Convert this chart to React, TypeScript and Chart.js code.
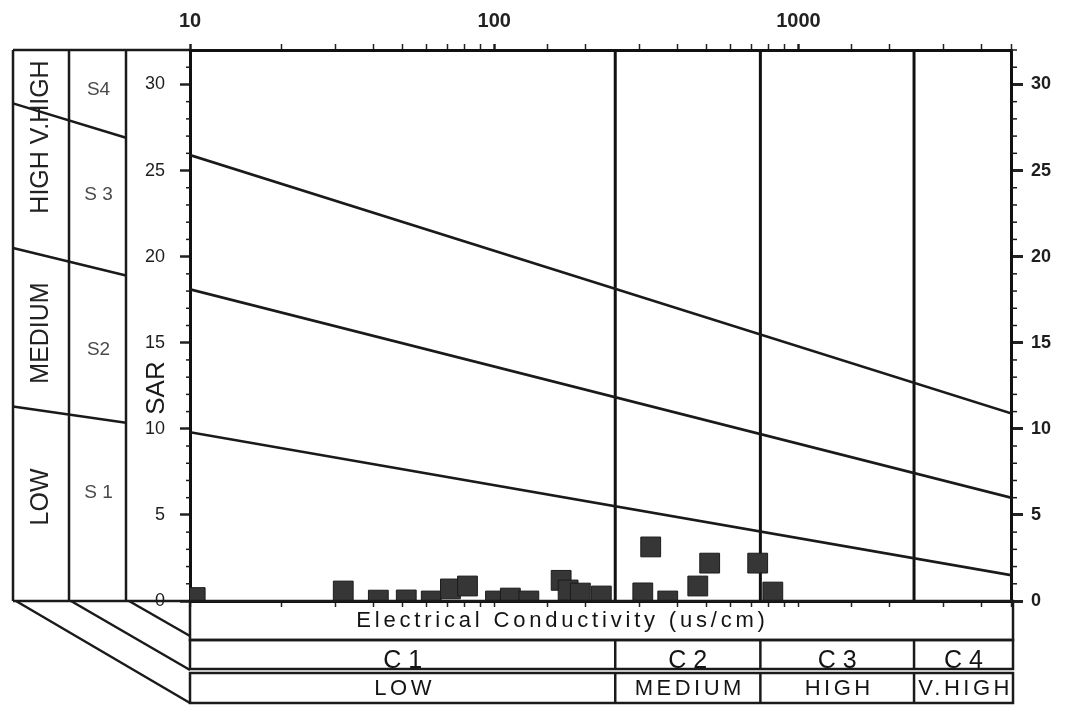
import React, { useEffect, useRef } from 'react';
import { Chart, registerables } from 'chart.js';

Chart.register(...registerables);

// ---------- data ----------
const ecMin = 10;
const ecMax = 5000;
const sarMin = 0;
const sarMax = 32;

const sampleEC = [10.4, 31.9, 41.6, 51.4, 62.1, 71.8, 81.7, 101, 113, 130, 166, 175, 192, 225, 308, 327, 372, 467, 511, 735, 824];
const sampleSAR = [0.2, 0.58, 0.05, 0.06, 0.0, 0.7, 0.87, 0.0, 0.17, 0.0, 1.2, 0.64, 0.46, 0.29, 0.47, 3.14, 0.0, 0.87, 2.2, 2.2, 0.52];

const hazardLineEC = [10, 5000];
const s1s2LineSAR = [9.8, 1.5];
const s2s3LineSAR = [18.1, 6.0];
const s3s4LineSAR = [25.9, 10.9];

const salinityBoundsEC = [250, 750, 2400];
const salinityClasses = ['C 1', 'C 2', 'C 3', 'C 4'];
const salinityNames = ['LOW', 'MEDIUM', 'HIGH', 'V.HIGH'];
const sodiumClasses = ['S 1', 'S2', 'S 3', 'S4'];
const sodiumNames = ['LOW', 'MEDIUM', 'HIGH V.HIGH'];
const sodiumPanelLeftSAR = [11.3, 20.5, 28.9];
const sodiumPanelRightSAR = [10.35, 18.9, 26.9];
const sarTickStep = 5;
const xTitle = 'Electrical Conductivity (us/cm)';
const yTitle = 'SAR';

// ---------- layout (pixels) ----------
const FONT = '"Liberation Sans", Arial, sans-serif';
const panelColX = [13, 69, 126];
const sodiumClassLabelY = [493, 350, 195, 90];
const sodiumNameLabelY = [497, 333, 137];

const isPow10 = (v: number) => Math.abs(Math.log10(v) - Math.round(Math.log10(v))) < 1e-9;

function seg(ctx: CanvasRenderingContext2D, x1: number, y1: number, x2: number, y2: number) {
  ctx.beginPath();
  ctx.moveTo(x1, y1);
  ctx.lineTo(x2, y2);
  ctx.stroke();
}

const decorPlugin = {
  id: 'decor',
  afterDraw(chart: any) {
    const ctx: CanvasRenderingContext2D = chart.ctx;
    const { left, right, top, bottom } = chart.chartArea;
    const xs = chart.scales.x;
    const ys = chart.scales.y;
    ctx.save();
    ctx.strokeStyle = '#1a1a1a';
    ctx.fillStyle = '#222';

    // minor SAR ticks
    ctx.lineWidth = 1.5;
    for (let v = sarMin; v <= sarMax; v++) {
      if (v % sarTickStep === 0) continue;
      const py = ys.getPixelForValue(v);
      seg(ctx, left - 4, py, left, py);
      seg(ctx, right, py, right + 6, py);
    }

    // left sodium panel
    ctx.lineWidth = 2.5;
    panelColX.forEach((x) => seg(ctx, x, top, x, bottom));
    seg(ctx, panelColX[0], top, left, top);
    seg(ctx, panelColX[0], bottom, left, bottom);
    sodiumPanelLeftSAR.forEach((a, i) => {
      seg(ctx, panelColX[0], ys.getPixelForValue(a), panelColX[2], ys.getPixelForValue(sodiumPanelRightSAR[i]));
    });

    // bottom salinity table
    const tRight = right + 2;
    const r1 = bottom + 39;
    const r2a = r1, r2b = bottom + 68;
    const r3a = bottom + 72, r3b = bottom + 102;
    ctx.strokeRect(left, bottom, tRight - left, r1 - bottom);
    ctx.strokeRect(left, r2a, tRight - left, r2b - r2a);
    ctx.strokeRect(left, r3a, tRight - left, r3b - r3a);
    const divX = salinityBoundsEC.map((v) => xs.getPixelForValue(v));
    divX.forEach((x) => {
      seg(ctx, x, r2a, x, r2b);
      seg(ctx, x, r3a, x, r3b);
    });
    // connecting diagonals
    seg(ctx, panelColX[0] + 3, bottom, left, r3b);
    seg(ctx, panelColX[1] + 2, bottom, left, r2b + 1);
    seg(ctx, panelColX[2] + 3, bottom, left, r1 - 4);

    // texts in bottom table
    const cx = [left, ...divX, tRight];
    ctx.textAlign = 'center';
    ctx.textBaseline = 'middle';
    (ctx as any).letterSpacing = '3.8px';
    ctx.font = `22px ${FONT}`;
    ctx.fillStyle = '#141414';
    ctx.fillText(xTitle, (left + right) / 2 - 38, bottom + 20);
    (ctx as any).letterSpacing = '0px';
    ctx.font = `25px ${FONT}`;
    ctx.textBaseline = 'alphabetic';
    salinityClasses.forEach((t, i) => ctx.fillText(t, (cx[i] + cx[i + 1]) / 2, r2b - 1));
    (ctx as any).letterSpacing = '3.5px';
    ctx.font = `22px ${FONT}`;
    ctx.textBaseline = 'middle';
    salinityNames.forEach((t, i) => ctx.fillText(t, (cx[i] + cx[i + 1]) / 2 + 2, (r3a + r3b) / 2 + 1));
    (ctx as any).letterSpacing = '0px';

    // left panel texts
    ctx.fillStyle = '#222';
    ctx.font = `25px ${FONT}`;
    sodiumNames.forEach((t, i) => {
      ctx.save();
      ctx.translate((panelColX[0] + panelColX[1]) / 2, sodiumNameLabelY[i]);
      ctx.rotate(-Math.PI / 2);
      ctx.fillText(t, 0, 0);
      ctx.restore();
    });
    ctx.fillStyle = '#4a4a4a';
    ctx.font = `19px ${FONT}`;
    sodiumClasses.forEach((t, i) => {
      ctx.fillText(t, (panelColX[1] + panelColX[2]) / 2 + 1, sodiumClassLabelY[i]);
    });

    // SAR axis title
    ctx.fillStyle = '#1a1a1a';
    ctx.font = `26px ${FONT}`;
    ctx.save();
    ctx.translate(157, 388);
    ctx.rotate(-Math.PI / 2);
    ctx.fillText(yTitle, 0, 0);
    ctx.restore();

    ctx.restore();
  },
};

export default function App() {
  const ref = useRef<HTMLCanvasElement>(null);

  useEffect(() => {
    const canvas = ref.current as HTMLCanvasElement;
    const lineDs = (ys: number[]) => ({
      type: 'line' as const,
      data: hazardLineEC.map((x, i) => ({ x, y: ys[i] })),
      borderColor: '#1a1a1a',
      borderWidth: 2.6,
      pointRadius: 0,
      fill: false,
      clip: 0,
    });
    const vDs = (ec: number) => ({
      type: 'line' as const,
      data: [{ x: ec, y: sarMin }, { x: ec, y: sarMax }],
      borderColor: '#111',
      borderWidth: 3,
      pointRadius: 0,
      fill: false,
      clip: 0,
    });

    const yTicks = {
      stepSize: sarTickStep,
      includeBounds: false,
      color: '#1e1e1e',
    };

    const chart = new Chart(canvas, {
      type: 'scatter',
      data: {
        datasets: [
          {
            type: 'scatter',
            data: sampleEC.map((x, i) => ({ x, y: sampleSAR[i] })),
            pointStyle: 'rect',
            pointRadius: 14,
            backgroundColor: '#363636',
            borderColor: '#1c1c1c',
            borderWidth: 1,
            clip: 0,
          } as any,
          lineDs(s1s2LineSAR),
          lineDs(s2s3LineSAR),
          lineDs(s3s4LineSAR),
          ...salinityBoundsEC.map(vDs),
        ],
      },
      options: {
        animation: false,
        responsive: false,
        events: [],
        layout: { padding: 0 },
        plugins: { legend: { display: false }, tooltip: { enabled: false } },
        scales: {
          x: {
            type: 'logarithmic',
            position: 'bottom',
            min: ecMin,
            max: ecMax,
            grid: { drawOnChartArea: false, drawTicks: true, tickLength: 6, tickColor: '#222', tickWidth: 1.5 },
            border: { display: true, color: '#111', width: 3 },
            ticks: { callback: () => '', autoSkip: false, maxRotation: 0, padding: 0 },
            afterFit: (s: any) => { s.height = 105; },
          },
          x2: {
            type: 'logarithmic',
            position: 'top',
            min: ecMin,
            max: ecMax,
            grid: {
              drawOnChartArea: false,
              drawTicks: true,
              tickLength: 6,
              tickColor: '#222',
              tickWidth: (c: any) => (c.tick && isPow10(c.tick.value) ? 2.5 : 1.5),
            },
            border: { display: true, color: '#111', width: 3 },
            ticks: {
              autoSkip: false,
              maxRotation: 0,
              padding: 11,
              color: '#222',
              font: { family: FONT, size: 20, weight: 'bold' },
              callback: (v: any) => (isPow10(Number(v)) ? String(Number(v)) : ''),
            },
            afterFit: (s: any) => { s.height = 50; },
          },
          y: {
            type: 'linear',
            position: 'left',
            min: sarMin,
            max: sarMax,
            grid: { drawOnChartArea: false, drawTicks: true, tickLength: 10, tickColor: '#222', tickWidth: 2.5 },
            border: { display: true, color: '#111', width: 3 },
            ticks: { ...yTicks, padding: 15, font: { family: FONT, size: 18 } },
            afterFit: (s: any) => { s.width = 190; },
          },
          y2: {
            type: 'linear',
            position: 'right',
            min: sarMin,
            max: sarMax,
            grid: { drawOnChartArea: false, drawTicks: true, tickLength: 12, tickColor: '#222', tickWidth: 3 },
            border: { display: true, color: '#111', width: 3 },
            ticks: { ...yTicks, padding: 8, font: { family: FONT, size: 18, weight: 'bold' } },
            afterFit: (s: any) => { s.width = 54; },
          },
        },
      } as any,
      plugins: [decorPlugin],
    });
    return () => chart.destroy();
  }, []);

  return (
    <div style={{ position: 'absolute', left: 0, top: 0, width: 1065, height: 706, background: '#fff' }}>
      <canvas ref={ref} width={1065} height={706} style={{ display: 'block', width: 1065, height: 706 }} />
    </div>
  );
}
